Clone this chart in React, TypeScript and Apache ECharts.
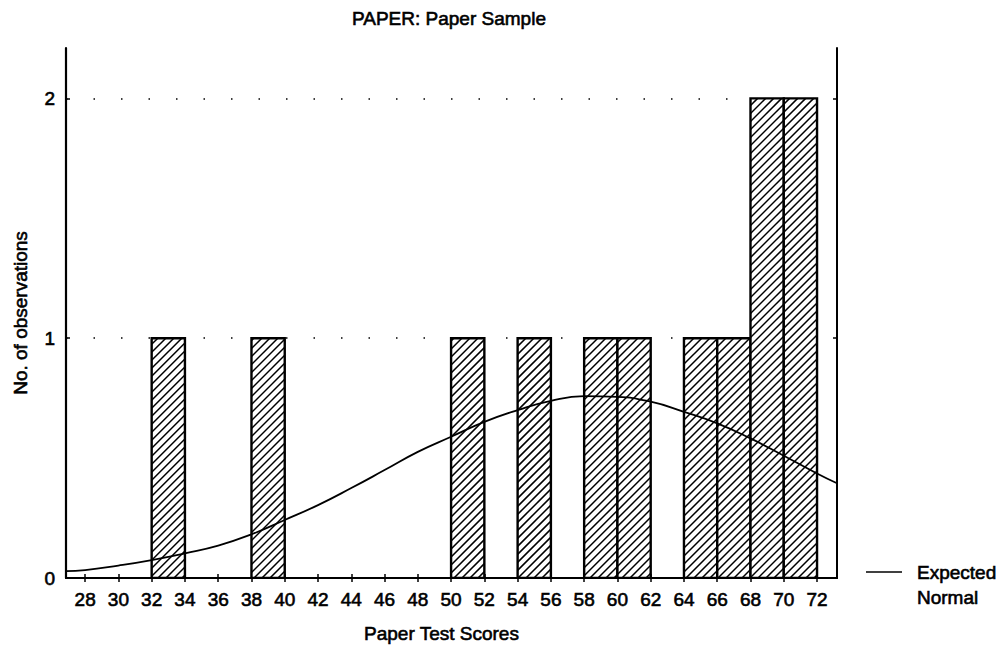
import React, { useEffect, useRef } from "react";
import * as echarts from "echarts";

const chartTitle = "PAPER: Paper Sample";
const xAxisName = "Paper Test Scores";
const yAxisName = "No. of observations";
const legendLines = ["Expected", "Normal"];

const xTicks = [28, 30, 32, 34, 36, 38, 40, 42, 44, 46, 48, 50, 52, 54, 56, 58, 60, 62, 64, 66, 68, 70, 72];
const yTicks = [0, 1, 2];
const xMin = 26.85;
const xMax = 73.2;
const yMax = 2.21;

// histogram bins: [start, end] and counts
const binStarts = [32, 38, 50, 54, 58, 60, 64, 66, 68, 70];
const binEnds = [34, 40, 52, 56, 60, 62, 66, 68, 70, 72];
const binCounts = [1, 1, 1, 1, 1, 1, 1, 1, 2, 2];

// expected normal curve
const normalX = [26.85, 28, 30, 32, 34, 36, 38, 40, 42, 44, 46, 48, 50, 52, 54, 56, 58, 60, 62, 64, 66, 68, 70, 72, 73.2];
const normalY = [0.029, 0.033, 0.052, 0.075, 0.103, 0.135, 0.182, 0.242, 0.304, 0.375, 0.45, 0.526, 0.589, 0.651, 0.7, 0.739, 0.758, 0.755, 0.735, 0.693, 0.645, 0.582, 0.51, 0.436, 0.395];

const FONT = "'Liberation Sans', Arial, sans-serif";
const FS = 19;
const TB = { textBorderColor: "#000", textBorderWidth: 0.6 };

export default function App() {
  const ref = useRef<HTMLDivElement>(null);

  useEffect(() => {
    if (!ref.current) return;
    const chart = echarts.init(ref.current, null, { renderer: "svg" });

    const barData = binStarts.map((s, i) => [s, binEnds[i], binCounts[i]]);
    const lineData = normalX.map((x, i) => [x, normalY[i]]);

    const hatchStep = 8;

    const option: any = {
      animation: false,
      backgroundColor: "#fff",
      textStyle: { fontFamily: FONT, color: "#000" },
      title: {
        text: chartTitle,
        left: 347,
        top: 4,
        textStyle: { fontFamily: FONT, fontSize: FS, fontWeight: "normal", color: "#000", ...TB },
      },
      grid: { left: 66, right: 166, top: 48, bottom: 72, containLabel: false },
      xAxis: [
        {
          type: "value",
          min: xMin,
          max: xMax,
          position: "bottom",
          name: xAxisName,
          nameLocation: "middle",
          nameGap: 46,
          nameTextStyle: { fontFamily: FONT, fontSize: FS, color: "#000", padding: [0, 20, 0, 0], ...TB },
          axisLine: { show: true, lineStyle: { color: "#000", width: 2 } },
          axisTick: { show: true, inside: true, length: 4, customValues: xTicks, lineStyle: { color: "#000", width: 1.5 } },
          axisLabel: { show: true, customValues: xTicks, margin: 12, fontFamily: FONT, fontSize: FS, color: "#000", ...TB },
          splitLine: { show: false },
        },
        {
          type: "value",
          min: xMin,
          max: xMax,
          position: "top",
          axisLine: { show: true, lineStyle: { color: "#000", width: 2 } },
          axisTick: { show: true, inside: true, length: 4, customValues: xTicks, lineStyle: { color: "#000", width: 1.5 } },
          axisLabel: { show: false },
          splitLine: { show: false },
        },
      ],
      yAxis: [
        {
          type: "value",
          min: 0,
          max: yMax,
          interval: 1,
          position: "left",
          name: yAxisName,
          nameLocation: "middle",
          nameGap: 36,
          nameTextStyle: { fontFamily: FONT, fontSize: FS, color: "#000", ...TB },
          axisLine: { show: true, lineStyle: { color: "#000", width: 2.2 } },
          axisTick: { show: true, inside: true, length: 4, customValues: yTicks, lineStyle: { color: "#000", width: 1.5 } },
          axisLabel: { show: true, customValues: yTicks, margin: 11, fontFamily: FONT, fontSize: FS, color: "#000", ...TB },
          splitLine: { show: true, lineStyle: { color: "#000", width: 1.5, type: [1.5, 26] } },
        },
        {
          type: "value",
          min: 0,
          max: yMax,
          interval: 1,
          position: "right",
          axisLine: { show: true, lineStyle: { color: "#000", width: 2 } },
          axisTick: { show: true, inside: true, length: 4, customValues: yTicks, lineStyle: { color: "#000", width: 1.5 } },
          axisLabel: { show: false },
          splitLine: { show: false },
        },
      ],
      series: [
        {
          type: "custom",
          name: "Histogram",
          xAxisIndex: 0,
          yAxisIndex: 0,
          clip: true,
          encode: { x: [0, 1], y: 2 },
          data: barData,
          renderItem: (params: any, api: any) => {
            const x0 = api.value(0);
            const x1 = api.value(1);
            const c = api.value(2);
            const tl = api.coord([x0, c]);
            const br = api.coord([x1, 0]);
            const rx = tl[0];
            const ry = tl[1];
            const w = br[0] - tl[0];
            const h = br[1] - tl[1];
            const children: any[] = [
              { type: "rect", shape: { x: rx, y: ry, width: w, height: h }, style: { fill: "#fff", stroke: "none" } },
            ];
            const kStart = Math.ceil((rx + ry) / hatchStep) * hatchStep;
            for (let k = kStart; k < rx + w + ry + h; k += hatchStep) {
              const xa = Math.max(rx, k - ry - h);
              const xb = Math.min(rx + w, k - ry);
              if (xb > xa) {
                children.push({
                  type: "line",
                  shape: { x1: xa, y1: k - xa, x2: xb, y2: k - xb },
                  style: { stroke: "#000", lineWidth: 1.5 },
                });
              }
            }
            children.push({
              type: "rect",
              shape: { x: rx, y: ry, width: w, height: h },
              style: { fill: "none", stroke: "#000", lineWidth: 2.4 },
            });
            return { type: "group", children };
          },
          z: 2,
        },
        {
          type: "line",
          name: "Expected Normal",
          xAxisIndex: 0,
          yAxisIndex: 0,
          data: lineData,
          smooth: true,
          showSymbol: false,
          clip: true,
          lineStyle: { color: "#000", width: 1.8 },
          z: 3,
        },
      ],
      graphic: [
        {
          type: "line",
          shape: { x1: 866, y1: 572, x2: 902, y2: 572 },
          style: { stroke: "#000", lineWidth: 1.5 },
        },
        {
          type: "text",
          x: 917,
          y: 572,
          style: { text: legendLines[0], font: `${FS}px ${FONT}`, fill: "#000", stroke: "#000", lineWidth: 0.6, verticalAlign: "middle", align: "left" },
        },
        {
          type: "text",
          x: 917,
          y: 597,
          style: { text: legendLines[1], font: `${FS}px ${FONT}`, fill: "#000", stroke: "#000", lineWidth: 0.6, verticalAlign: "middle", align: "left" },
        },
      ],
    };

    chart.setOption(option);
    return () => {
      chart.dispose();
    };
  }, []);

  return (
    <div
      ref={ref}
      style={{ position: "fixed", left: 0, top: 0, width: 1003, height: 650, background: "#fff" }}
    />
  );
}
